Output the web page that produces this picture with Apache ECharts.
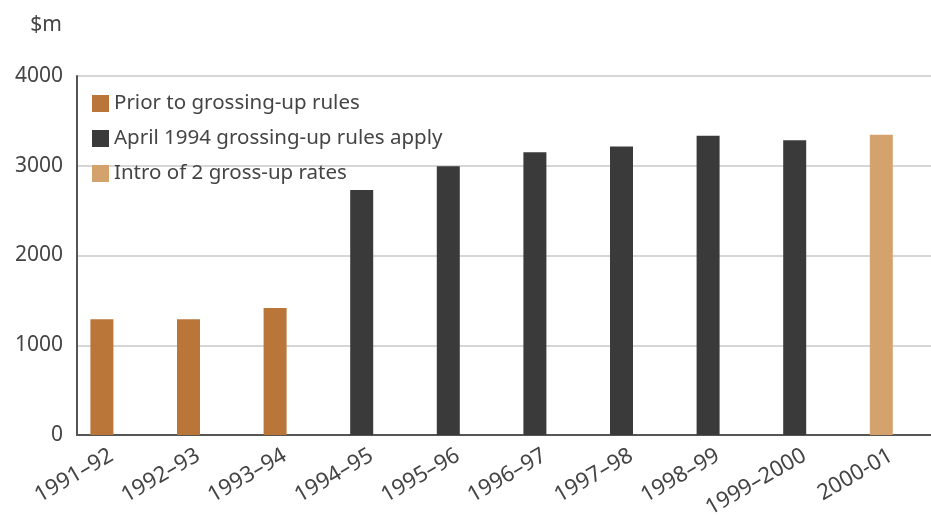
<!DOCTYPE html>
<html lang="en">
<head>
    <meta charset="UTF-8">
    <title>Grossing-up</title>
    <style>
        html, body { margin: 0; padding: 0; background: #fff; }
        #container { width: 931px; height: 515px; }
    </style>
    <script src="https://cdn.jsdelivr.net/npm/echarts@6/dist/echarts.min.js"></script>
</head>
<body>
<div id="container"></div>
<script type="text/javascript">
    // years along the bottom
    var years = ['1991–92', '1992–93', '1993–94', '1994–95', '1995–96', '1996–97',
                 '1997–98', '1998–99', '1999–2000', '2000-01'];
    // $m, split by regime
    var priorRules = [1290, 1290, 1415, '-', '-', '-', '-', '-', '-', '-'];
    var april1994 = ['-', '-', '-', 2730, 2995, 3150, 3215, 3335, 3285, '-'];
    var twoRates = ['-', '-', '-', '-', '-', '-', '-', '-', '-', 3345];
    var seriesNames = ['Prior to grossing-up rules', 'April 1994 grossing-up rules apply', 'Intro of 2 gross-up rates'];
    var colors = ['#b97638', '#3a3a3a', '#d4a26c'];

    var myChart = echarts.init(document.getElementById('container'));
    var font = 'Noto Sans';
    var textColor = '#444';

    var series = [priorRules, april1994, twoRates].map(function (vals, i) {
        return {
            name: seriesNames[i],
            type: 'bar',
            stack: 'total',
            barWidth: 23,
            barGap: '60%',
            data: vals,
            itemStyle: { color: colors[i] }
        };
    });
    // empty slot so bars sit left of category centre like the original
    series.push({
        name: 'pad',
        type: 'bar',
        barWidth: 23,
        data: years.map(function () { return 0; }),
        itemStyle: { color: 'rgba(0,0,0,0)' },
        silent: true
    });

    var option = {
        animation: false,
        textStyle: { fontFamily: font },
        legend: {
            data: seriesNames,
            orient: 'vertical',
            left: 87,
            top: 88,
            itemWidth: 17,
            itemHeight: 17,
            itemGap: 14,
            icon: 'rect',
            textStyle: { fontSize: 20.5, color: textColor, fontFamily: font }
        },
        grid: { left: 77, top: 76, width: 866, bottom: 80, outerBoundsMode: 'none', containLabel: false },
        xAxis: {
            type: 'category',
            data: years,
            axisLine: { lineStyle: { color: '#555', width: 2 } },
            axisTick: { inside: true, length: 5, lineStyle: { color: '#aaa' } },
            axisLabel: {
                rotate: 30, fontSize: 22, color: textColor, margin: 14,
                padding: [0, 10, 0, 0], fontFamily: font
            }
        },
        yAxis: {
            type: 'value',
            min: 0,
            max: 4000,
            interval: 1000,
            name: '$m',
            nameLocation: 'end',
            nameGap: 40,
            nameTextStyle: { fontSize: 21, color: textColor, align: 'right', padding: [0, 15, 0, 0], fontFamily: font },
            axisLine: { show: true, lineStyle: { color: '#555', width: 2 } },
            axisTick: { show: false },
            axisLabel: {
                fontSize: 21, color: textColor, margin: 14, fontFamily: font,
                formatter: function (v) { return String(v); }
            },
            splitLine: { lineStyle: { color: '#c8c8c8', width: 1.5 } }
        },
        series: series
    };

    myChart.setOption(option);
</script>
</body>
</html>
